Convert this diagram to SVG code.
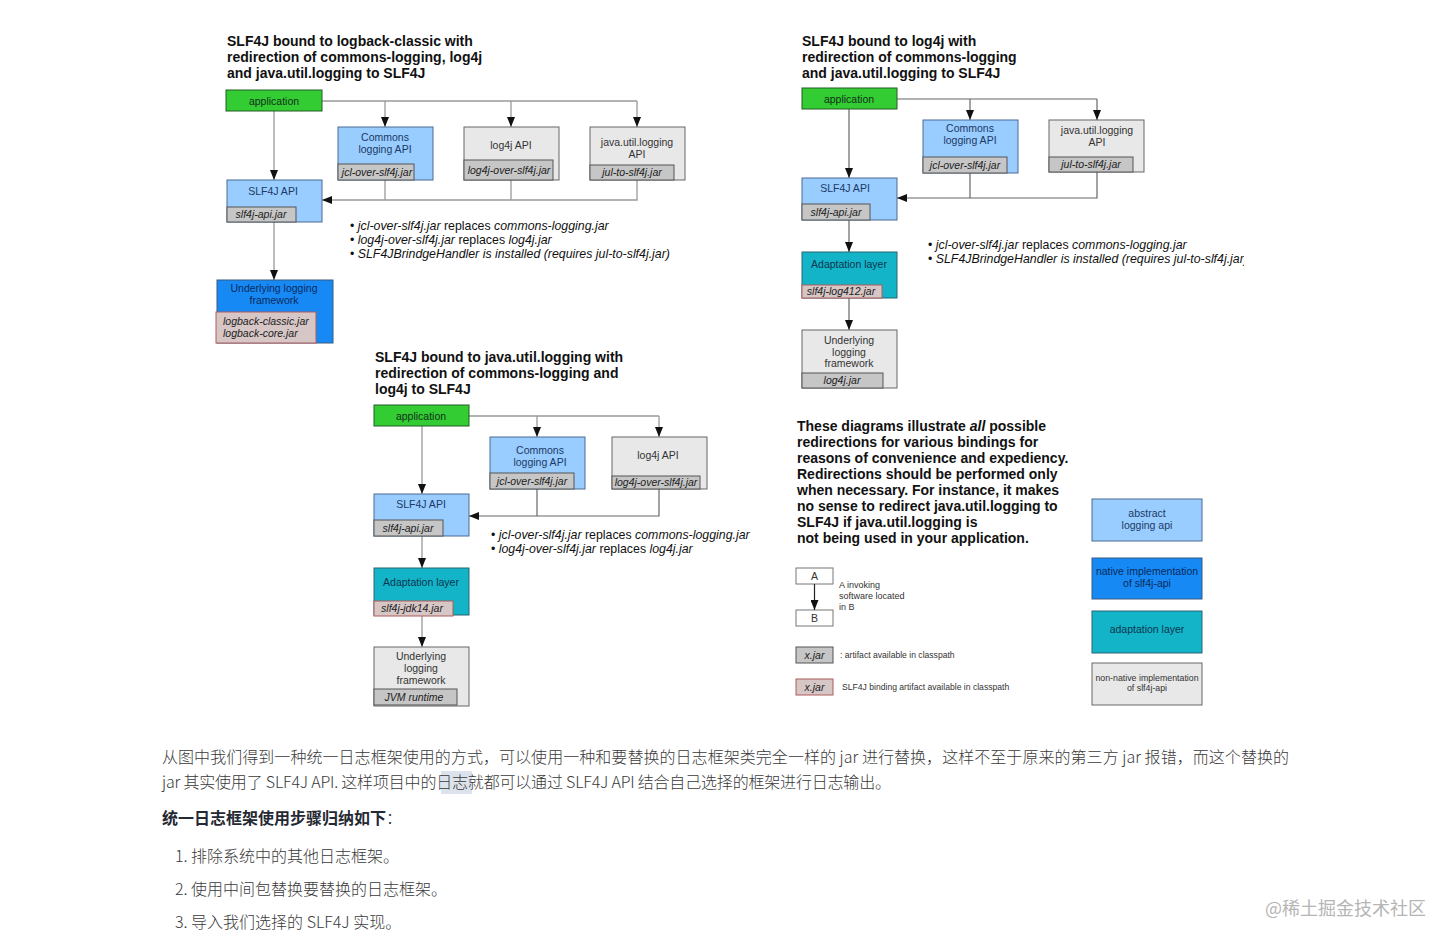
<svg xmlns="http://www.w3.org/2000/svg" width="1451" height="945" viewBox="0 0 1451 945">
<style>
.title{font:bold 14px "Liberation Sans",Arial,sans-serif;fill:#111}
.para{font:bold 14px "Liberation Sans",Arial,sans-serif;fill:#111}
.lbl{font:10.5px "Liberation Sans",Arial,sans-serif;fill:#1b3a66;text-anchor:middle}
.lblg{font:10.5px "Liberation Sans",Arial,sans-serif;fill:#333;text-anchor:middle}
.jar{font:italic 10.5px "Liberation Sans",Arial,sans-serif;fill:#222;text-anchor:middle}
.bul{font:12.35px "Liberation Sans",Arial,sans-serif;fill:#111}
.i{font-style:italic}
.small{font:9px "Liberation Sans",Arial,sans-serif;fill:#333}
.tiny{font:8.6px "Liberation Sans",Arial,sans-serif;fill:#333}
.abs{fill:#99ccff;stroke:#4a6a94;stroke-width:1}
.nat{fill:#1689f5;stroke:#3a5a80;stroke-width:1}
.ada{fill:#13b4c8;stroke:#2a6470;stroke-width:1}
.non{fill:#e8e8e8;stroke:#666;stroke-width:1}
.app{fill:#33cc33;stroke:#245c24;stroke-width:1}
.jg{fill:#c6c6c6;stroke:#555;stroke-width:1}
.jr{fill:#d6c6c6;stroke:#b05a5a;stroke-width:1}
.wb{fill:#fff;stroke:#777;stroke-width:1}
.ln{stroke:#9a9a9a;fill:none;stroke-width:1.3}
.ln2{stroke:#666;fill:none;stroke-width:1.2}
.cn{font:16px "Noto Sans CJK SC",sans-serif;font-weight:300;fill:#3a3a3a}
.cnb{font:bold 16px "Noto Sans CJK SC",sans-serif;fill:#252933}
.wm{font:18px "Noto Sans CJK SC",sans-serif;fill:#b5b5b5}
</style>
<defs>
<marker id="ah" viewBox="0 0 10 8" refX="10" refY="4" markerWidth="10" markerHeight="8" markerUnits="userSpaceOnUse" orient="auto">
<path d="M0,0 L10,4 L0,8 z" fill="#111"/>
</marker>
<clipPath id="clipR"><rect x="900" y="230" width="344" height="50"/></clipPath>
</defs>
<rect width="1451" height="945" fill="#fff"/>

<!-- ========== Top-left diagram ========== -->
<g id="tl-title">
<text class="title" x="227" y="46">SLF4J bound to logback-classic with</text>
<text class="title" x="227" y="62">redirection of commons-logging, log4j</text>
<text class="title" x="227" y="78">and java.util.logging to SLF4J</text>
</g>
<g id="tl-connectors">
<path class="ln" d="M274,111 V180" marker-end="url(#ah)"/>
<path class="ln" d="M322,101 H637"/>
<path class="ln" d="M385,101 V127" marker-end="url(#ah)"/>
<path class="ln" d="M511,101 V127" marker-end="url(#ah)"/>
<path class="ln" d="M637,101 V127" marker-end="url(#ah)"/>
<path class="ln" d="M385,180 V200"/>
<path class="ln" d="M511,180 V200"/>
<path class="ln" d="M637,180 V200 H322" marker-end="url(#ah)"/>
<path class="ln" d="M274,222 V280" marker-end="url(#ah)"/>
</g>
<g id="tl-application">
<rect class="app" x="226" y="90" width="96" height="21"/>
<text class="lbl" x="274" y="104.5" style="fill:#12301a">application</text>
</g>
<g id="tl-commons">
<rect class="abs" x="338" y="127" width="95" height="53"/>
<text class="lbl" x="385" y="141">Commons</text>
<text class="lbl" x="385" y="153">logging API</text>
<rect class="jg" x="338" y="164" width="76" height="16"/>
<text class="jar" x="377" y="176">jcl-over-slf4j.jar</text>
</g>
<g id="tl-log4j">
<rect class="non" x="464" y="127" width="95" height="53"/>
<text class="lblg" x="511" y="149">log4j API</text>
<rect class="jg" x="464" y="160" width="89" height="20"/>
<text class="jar" x="509" y="173.5">log4j-over-slf4j.jar</text>
</g>
<g id="tl-jul">
<rect class="non" x="590" y="127" width="95" height="53"/>
<text class="lblg" x="637" y="146">java.util.logging</text>
<text class="lblg" x="637" y="158">API</text>
<rect class="jg" x="590" y="165" width="84" height="15"/>
<text class="jar" x="632" y="176">jul-to-slf4j.jar</text>
</g>
<g id="tl-slf4j">
<rect class="abs" x="227" y="180" width="95" height="42"/>
<text class="lbl" x="273" y="195">SLF4J API</text>
<rect class="jg" x="227" y="207" width="69" height="15"/>
<text class="jar" x="261" y="218">slf4j-api.jar</text>
</g>
<g id="tl-underlying">
<rect class="nat" x="217" y="280" width="116" height="63"/>
<text class="lbl" x="274" y="292" style="fill:#0b2a5c">Underlying logging</text>
<text class="lbl" x="274" y="304" style="fill:#0b2a5c">framework</text>
<rect class="jr" x="216" y="312" width="100" height="31"/>
<text class="jar" x="223" y="325" style="text-anchor:start">logback-classic.jar</text>
<text class="jar" x="223" y="337" style="text-anchor:start">logback-core.jar</text>
</g>
<g id="tl-notes">
<text class="bul" x="350" y="230">• <tspan class="i">jcl-over-slf4j.jar</tspan> replaces <tspan class="i">commons-logging.jar</tspan></text>
<text class="bul" x="350" y="244">• <tspan class="i">log4j-over-slf4j.jar</tspan> replaces <tspan class="i">log4j.jar</tspan></text>
<text class="bul" x="350" y="258">• <tspan class="i">SLF4JBrindgeHandler is installed (requires jul-to-slf4j.jar)</tspan></text>
</g>

<!-- ========== Top-right diagram ========== -->
<g id="tr-title">
<text class="title" x="802" y="46">SLF4J bound to log4j with</text>
<text class="title" x="802" y="62">redirection of commons-logging</text>
<text class="title" x="802" y="78">and java.util.logging to SLF4J</text>
</g>
<g id="tr-connectors">
<path class="ln2" d="M849,109 V178" marker-end="url(#ah)"/>
<path class="ln2" d="M897,99 H1097"/>
<path class="ln2" d="M970,99 V120" marker-end="url(#ah)"/>
<path class="ln2" d="M1097,99 V120" marker-end="url(#ah)"/>
<path class="ln2" d="M970,173 V198"/>
<path class="ln2" d="M1097,172 V198 H897" marker-end="url(#ah)"/>
<path class="ln2" d="M849,220 V252" marker-end="url(#ah)"/>
<path class="ln2" d="M849,298 V330" marker-end="url(#ah)"/>
</g>
<g id="tr-application">
<rect class="app" x="802" y="88" width="95" height="21"/>
<text class="lbl" x="849" y="102.5" style="fill:#12301a">application</text>
</g>
<g id="tr-commons">
<rect class="abs" x="923" y="120" width="95" height="53"/>
<text class="lbl" x="970" y="132">Commons</text>
<text class="lbl" x="970" y="144">logging API</text>
<rect class="jg" x="923" y="157" width="84" height="16"/>
<text class="jar" x="965" y="169">jcl-over-slf4j.jar</text>
</g>
<g id="tr-jul">
<rect class="non" x="1049" y="120" width="95" height="52"/>
<text class="lblg" x="1097" y="134">java.util.logging</text>
<text class="lblg" x="1097" y="146">API</text>
<rect class="jg" x="1049" y="157" width="84" height="15"/>
<text class="jar" x="1091" y="168">jul-to-slf4j.jar</text>
</g>
<g id="tr-slf4j">
<rect class="abs" x="802" y="178" width="95" height="42"/>
<text class="lbl" x="845" y="192">SLF4J API</text>
<rect class="jg" x="802" y="204" width="68" height="16"/>
<text class="jar" x="836" y="216">slf4j-api.jar</text>
</g>
<g id="tr-adaptation">
<rect class="ada" x="802" y="252" width="95" height="46"/>
<text class="lbl" x="849" y="268" style="fill:#0b3550">Adaptation layer</text>
<rect class="jr" x="802" y="285" width="80" height="13"/>
<text class="jar" x="841" y="295">slf4j-log412.jar</text>
</g>
<g id="tr-underlying">
<rect class="non" x="802" y="330" width="95" height="58"/>
<text class="lblg" x="849" y="344">Underlying</text>
<text class="lblg" x="849" y="356">logging</text>
<text class="lblg" x="849" y="367">framework</text>
<rect class="jg" x="802" y="373" width="81" height="15"/>
<text class="jar" x="842" y="384">log4j.jar</text>
</g>
<g id="tr-notes" clip-path="url(#clipR)">
<text class="bul" x="928" y="249">• <tspan class="i">jcl-over-slf4j.jar</tspan> replaces <tspan class="i">commons-logging.jar</tspan></text>
<text class="bul" x="928" y="263">• <tspan class="i">SLF4JBrindgeHandler is installed (requires jul-to-slf4j.jar)</tspan></text>
</g>

<!-- ========== Middle diagram ========== -->
<g id="m-title">
<text class="title" x="375" y="362">SLF4J bound to java.util.logging with</text>
<text class="title" x="375" y="378">redirection of commons-logging and</text>
<text class="title" x="375" y="394">log4j to SLF4J</text>
</g>
<g id="m-connectors">
<path class="ln" d="M422,426 V494" marker-end="url(#ah)"/>
<path class="ln" d="M469,416 H659"/>
<path class="ln" d="M537,416 V437" marker-end="url(#ah)"/>
<path class="ln" d="M659,416 V437" marker-end="url(#ah)"/>
<path class="ln2" d="M537,489 V516"/>
<path class="ln2" d="M659,489 V516 H469" marker-end="url(#ah)"/>
<path class="ln" d="M422,536 V568" marker-end="url(#ah)"/>
<path class="ln" d="M422,615 V647" marker-end="url(#ah)"/>
</g>
<g id="m-application">
<rect class="app" x="374" y="405" width="95" height="21"/>
<text class="lbl" x="421" y="419.5" style="fill:#12301a">application</text>
</g>
<g id="m-commons">
<rect class="abs" x="490" y="437" width="95" height="52"/>
<text class="lbl" x="540" y="454">Commons</text>
<text class="lbl" x="540" y="466">logging API</text>
<rect class="jg" x="490" y="473" width="84" height="16"/>
<text class="jar" x="532" y="485">jcl-over-slf4j.jar</text>
</g>
<g id="m-log4j">
<rect class="non" x="612" y="437" width="95" height="52"/>
<text class="lblg" x="658" y="459">log4j API</text>
<rect class="jg" x="612" y="476" width="88" height="13"/>
<text class="jar" x="656" y="486">log4j-over-slf4j.jar</text>
</g>
<g id="m-slf4j">
<rect class="abs" x="374" y="494" width="95" height="42"/>
<text class="lbl" x="421" y="508">SLF4J API</text>
<rect class="jg" x="374" y="520" width="69" height="16"/>
<text class="jar" x="408" y="532">slf4j-api.jar</text>
</g>
<g id="m-adaptation">
<rect class="ada" x="374" y="568" width="95" height="47"/>
<text class="lbl" x="421" y="586" style="fill:#0b3550">Adaptation layer</text>
<rect class="jr" x="374" y="601" width="79" height="15"/>
<text class="jar" x="412" y="612">slf4j-jdk14.jar</text>
</g>
<g id="m-underlying">
<rect class="non" x="374" y="647" width="95" height="59"/>
<text class="lblg" x="421" y="660">Underlying</text>
<text class="lblg" x="421" y="672">logging</text>
<text class="lblg" x="421" y="684">framework</text>
<rect class="jg" x="374" y="689" width="83" height="16"/>
<text class="jar" x="414" y="701">JVM runtime</text>
</g>
<g id="m-notes">
<text class="bul" x="491" y="539">• <tspan class="i">jcl-over-slf4j.jar</tspan> replaces <tspan class="i">commons-logging.jar</tspan></text>
<text class="bul" x="491" y="553">• <tspan class="i">log4j-over-slf4j.jar</tspan> replaces <tspan class="i">log4j.jar</tspan></text>
</g>

<!-- ========== Explanation text ========== -->
<g id="explanation">
<text class="para" x="797" y="431">These diagrams illustrate <tspan font-style="italic">all</tspan> possible</text>
<text class="para" x="797" y="447">redirections for various bindings for</text>
<text class="para" x="797" y="463">reasons of convenience and expediency.</text>
<text class="para" x="797" y="479">Redirections should be performed only</text>
<text class="para" x="797" y="495">when necessary. For instance, it makes</text>
<text class="para" x="797" y="511">no sense to redirect java.util.logging to</text>
<text class="para" x="797" y="527">SLF4J if java.util.logging is</text>
<text class="para" x="797" y="543">not being used in your application.</text>
</g>

<!-- ========== Legend ========== -->
<g id="legend-a">
<rect class="wb" x="796" y="568" width="37" height="16"/>
<text class="lblg" x="814.5" y="580">A</text>
</g>
<g id="legend-b">
<rect class="wb" x="796" y="610" width="37" height="16"/>
<text class="lblg" x="814.5" y="622">B</text>
</g>
<g id="legend-connectors">
<path class="ln2" d="M814.5,584 V610" style="stroke:#222" marker-end="url(#ah)"/>
</g>
<g id="legend-texts">
<text class="small" x="839" y="588">A invoking</text>
<text class="small" x="839" y="599">software located</text>
<text class="small" x="839" y="610">in B</text>
</g>
<g id="legend-jar">
<rect class="jg" x="796" y="647" width="37" height="16"/>
<text class="jar" x="814.5" y="659">x.jar</text>
<text class="tiny" x="840" y="658">: artifact available in classpath</text>
</g>
<g id="legend-binding">
<rect class="jr" x="796" y="679" width="37" height="16"/>
<text class="jar" x="814.5" y="691">x.jar</text>
<text class="tiny" x="842" y="690">SLF4J binding artifact available in classpath</text>
</g>
<g id="legend-abstract">
<rect class="abs" x="1092" y="499" width="110" height="42"/>
<text class="lbl" x="1147" y="517">abstract</text>
<text class="lbl" x="1147" y="529">logging api</text>
</g>
<g id="legend-native">
<rect class="nat" x="1092" y="558" width="110" height="41"/>
<text class="lbl" x="1147" y="575" style="fill:#0b2a5c">native implementation</text>
<text class="lbl" x="1147" y="587" style="fill:#0b2a5c">of slf4j-api</text>
</g>
<g id="legend-adaptation">
<rect class="ada" x="1092" y="611" width="110" height="42"/>
<text class="lbl" x="1147" y="633" style="fill:#0b3550">adaptation layer</text>
</g>
<g id="legend-nonnative">
<rect class="non" x="1092" y="663" width="110" height="42"/>
<text class="lblg" x="1147" y="681" style="font-size:8.8px">non-native implementation</text>
<text class="lblg" x="1147" y="691" style="font-size:8.8px">of slf4j-api</text>
</g>

<!-- ========== Chinese article text ========== -->
<g id="article">
<text class="cn" x="162" y="763" textLength="1127" lengthAdjust="spacing">从图中我们得到一种统一日志框架使用的方式，可以使用一种和要替换的日志框架类完全一样的 jar 进行替换，这样不至于原来的第三方 jar 报错，而这个替换的</text>
<rect x="441" y="771" width="31" height="23" fill="#dde3ec"/>
<text class="cn" x="162" y="788" textLength="729" lengthAdjust="spacing">jar 其实使用了 SLF4J API. 这样项目中的日志就都可以通过 SLF4J API 结合自己选择的框架进行日志输出。</text>
<text class="cnb" x="162" y="824">统一日志框架使用步骤归纳如下<tspan style="font-weight:300">：</tspan></text>
<text class="cn" x="175" y="862">1. 排除系统中的其他日志框架。</text>
<text class="cn" x="175" y="895">2. 使用中间包替换要替换的日志框架。</text>
<text class="cn" x="175" y="928">3. 导入我们选择的 SLF4J 实现。</text>
<text class="wm" x="1265" y="915">@稀土掘金技术社区</text>
</g>
</svg>
